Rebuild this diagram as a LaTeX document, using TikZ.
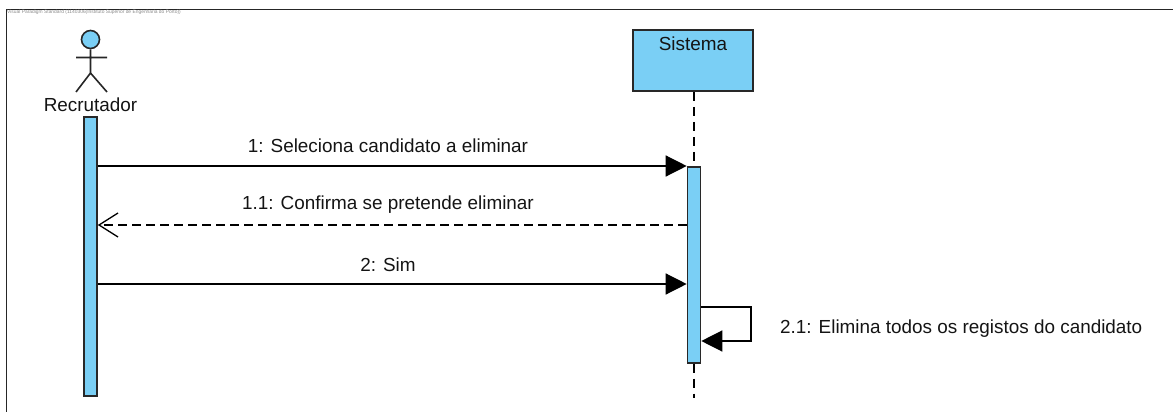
\documentclass[tikz,border=0pt]{standalone}
\usepackage{fontspec}
\setmainfont{Liberation Sans}
\usetikzlibrary{arrows.meta,calc}
\definecolor{vpblue}{RGB}{122,207,245}
\definecolor{vpedge}{RGB}{40,40,40}
\tikzset{
  bar/.style={draw=vpedge,line width=1.6pt,fill=vpblue,minimum width=13pt,inner sep=0pt,anchor=north},
  lbl/.style={font=\fontsize{18.9}{22}\selectfont,text=black!92,anchor=base,inner sep=0pt},
  msg/.style={line width=1.3pt,-{Triangle[length=21pt,width=21pt]}},
  ret/.style={line width=1.3pt,dash pattern=on 9pt off 5pt,-{Straight Barb[length=19pt,width=24pt,line width=1.3pt]}},
  life/.style={line width=1.3pt,dash pattern=on 9pt off 6pt},
  stick/.style={line width=1.6pt,draw=black!85}
}
\begin{document}
\begin{tikzpicture}[x=1pt,y=-1pt]
\useasboundingbox (0,0) rectangle (1173,412);
% frame
\draw[line width=1.6pt,draw=black!85] (6.5,418) -- (6.5,9.5) -- (1180,9.5);
\node[anchor=base west,inner sep=0pt,font=\fontsize{4.9}{5}\selectfont,text=black!45] (wm) at (7,14) {Visual Paradigm Standard (1140306(Instituto Superior de Engenharia do Porto))};
% actor
\node[circle,draw=black!85,line width=1.6pt,fill=vpblue,minimum size=18pt,inner sep=0pt] (head) at (90.5,39.5) {};
\coordinate (hip) at (90.5,73);
\coordinate (armL) at (76,57.5);
\coordinate (armR) at (107,57.5);
\coordinate (legL) at (76,92);
\coordinate (legR) at (107,92);
\draw[stick] (head.south) -- (hip) (armL) -- (armR) (legL) -- (hip) -- (legR);
\node[lbl] (actorlbl) at (90.5,111) {Recrutador};
\node[bar,minimum height=279pt] (abar) at (90.5,116) {};
% Sistema
\node[draw=vpedge,line width=1.6pt,fill=vpblue,minimum width=120pt,minimum height=61pt,inner sep=0pt,anchor=north] (sys) at (693,29.3) {};
\node[lbl] (syslbl) at (693,51) {Sistema};
\node[bar,minimum height=196pt] (sbar) at (694,166) {};
\coordinate (lifeend) at (694,398);
\draw[life] (sys.south -| sbar.north) -- (sbar.north);
\draw[life] (sbar.south) -- (lifeend);
% messages
\coordinate (m1a) at (abar.east |- 0,166);
\coordinate (m1b) at (sbar.west |- 0,166);
\coordinate (m2a) at (sbar.west |- 0,225);
\coordinate (m2b) at (abar.east |- 0,225);
\coordinate (m3a) at (abar.east |- 0,284);
\coordinate (m3b) at (sbar.west |- 0,284);
\coordinate (s1) at (sbar.east |- 0,307);
\coordinate (s2) at (sbar.east |- 0,341);
\coordinate (sc1) at (751,307);
\coordinate (sc2) at (751,341);
\draw[msg] (m1a) -- (m1b);
\node[lbl] (l1) at (388,152) {1: Seleciona candidato a eliminar};
\draw[ret] (m2a) -- (m2b);
\node[lbl] (l2) at (388,209) {1.1: Confirma se pretende eliminar};
\draw[msg] (m3a) -- (m3b);
\node[lbl] (l3) at (388,271) {2: Sim};
\draw[msg] (s1) -- (sc1) -- (sc2) -- (s2);
\node[lbl,anchor=base west] (l4) at (780,333) {2.1: Elimina todos os registos do candidato};
\end{tikzpicture}
\end{document}
